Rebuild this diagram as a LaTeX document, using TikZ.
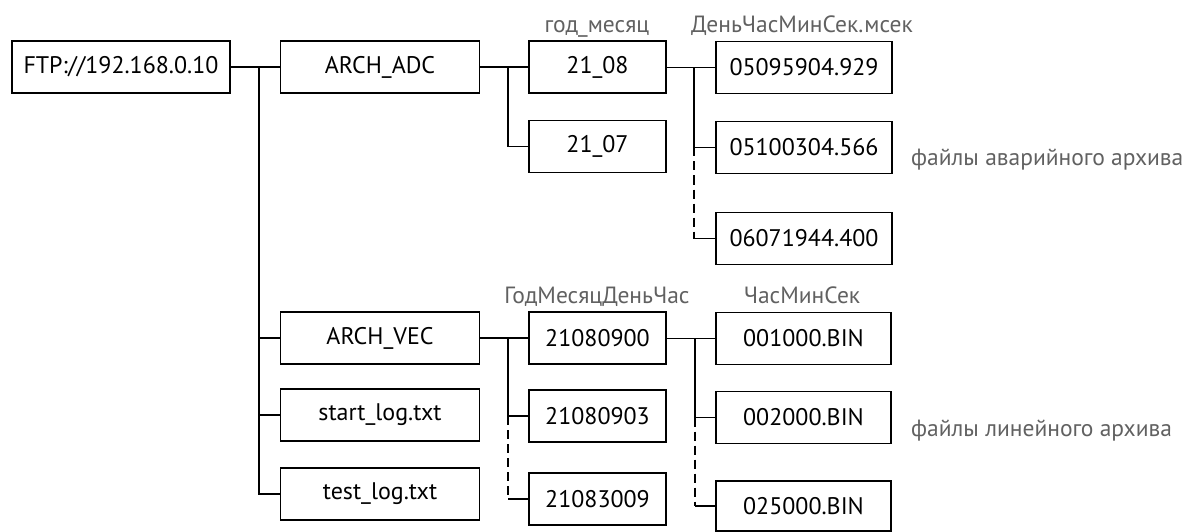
\documentclass[tikz,border=0pt]{standalone}
\usepackage{fontspec}
\setmainfont{PT Sans}
\begin{document}
\begin{tikzpicture}[x=1pt,y=-1pt,
  box/.style={draw, line width=1.3pt, inner sep=0pt, minimum height=52pt, font=\fontsize{24}{28}\selectfont},
  lbl/.style={text=black!62, inner sep=0pt, font=\fontsize{23.5}{28}\selectfont},
  conn/.style={line width=1.3pt},
  dconn/.style={line width=1.3pt, dash pattern=on 9pt off 5pt}]
\useasboundingbox (0,0) rectangle (1189,532);
% level 0/1
\node[box, minimum width=218pt] (ftp) at (121,67) {FTP://192.168.0.10};
\node[box, minimum width=199pt] (adc) at (380,67) {ARCH\_ADC};
\node[box, minimum width=199pt] (vec) at (380,338) {ARCH\_VEC};
\node[box, minimum width=199pt] (slog) at (380,415) {start\_log.txt};
\node[box, minimum width=199pt] (tlog) at (380,494) {test\_log.txt};
% level 2
\node[box, minimum width=137pt] (m08) at (597.5,67) {21\_08};
\node[box, minimum width=137pt] (m07) at (597.5,146.5) {21\_07};
\node[box, minimum width=137pt] (d1) at (597.5,338) {21080900};
\node[box, minimum width=137pt] (d2) at (597.5,416) {21080903};
\node[box, minimum width=137pt] (d3) at (597.5,499) {21083009};
% level 3
\node[box, minimum width=176pt] (f1) at (804,67.5) {05095904.929};
\node[box, minimum width=176pt] (f2) at (804,147.5) {05100304.566};
\node[box, minimum width=176pt] (f3) at (804,238.5) {06071944.400};
\node[box, minimum width=175pt] (b1) at (803.5,338.5) {001000.BIN};
\node[box, minimum width=175pt] (b2) at (803.5,417.5) {002000.BIN};
\node[box, minimum width=175pt, minimum height=50pt] (b3) at (803.5,506) {025000.BIN};
% labels
\node[lbl, anchor=base] (lym) at (597,33) {год\_месяц};
\node[lbl, anchor=base] (ldt) at (802,33) {ДеньЧасМинСек.мсек};
\node[lbl, anchor=base west] (lava) at (911,165) {файлы аварийного архива};
\node[lbl, anchor=base] (lymd) at (597,303) {ГодМесяцДеньЧас};
\node[lbl, anchor=base] (lhms) at (802,303) {ЧасМинСек};
\node[lbl, anchor=base west] (llin) at (911,436) {файлы линейного архива};
% junctions
\coordinate (j1) at (259,67);
\coordinate (j2) at (508,67);
\coordinate (j3) at (694,67.5);
\coordinate (j3b) at (694,147.5);
\coordinate (j3c) at (694,238.5);
\coordinate (j4) at (508,338);
\coordinate (j4b) at (508,416);
\coordinate (j4c) at (508,499);
\coordinate (j5) at (695,338.5);
\coordinate (j5b) at (695,417.5);
\coordinate (j5c) at (695,506);
% connectors
\draw[conn] (ftp.east) -- (adc.west);
\draw[conn] (j1) |- (vec.west);
\draw[conn] (j1) |- (slog.west);
\draw[conn] (j1) |- (tlog.west);
\draw[conn] (adc.east) -- (m08.west);
\draw[conn] (j2) |- (m07.west);
\draw[conn] (m08.east |- j3) -- (f1.west);
\draw[conn] (j3) |- (f2.west);
\draw[dconn] (j3b) -- (j3c);
\draw[conn] (j3c) -- (f3.west);
\draw[conn] (vec.east) -- (d1.west);
\draw[conn] (j4) |- (d2.west);
\draw[dconn] (j4b) -- (j4c);
\draw[conn] (j4c) -- (d3.west);
\draw[conn] (d1.east |- j5) -- (b1.west);
\draw[conn] (j5) |- (b2.west);
\draw[dconn] (j5b) -- (j5c);
\draw[conn] (j5c) -- (b3.west);
\end{tikzpicture}
\end{document}
